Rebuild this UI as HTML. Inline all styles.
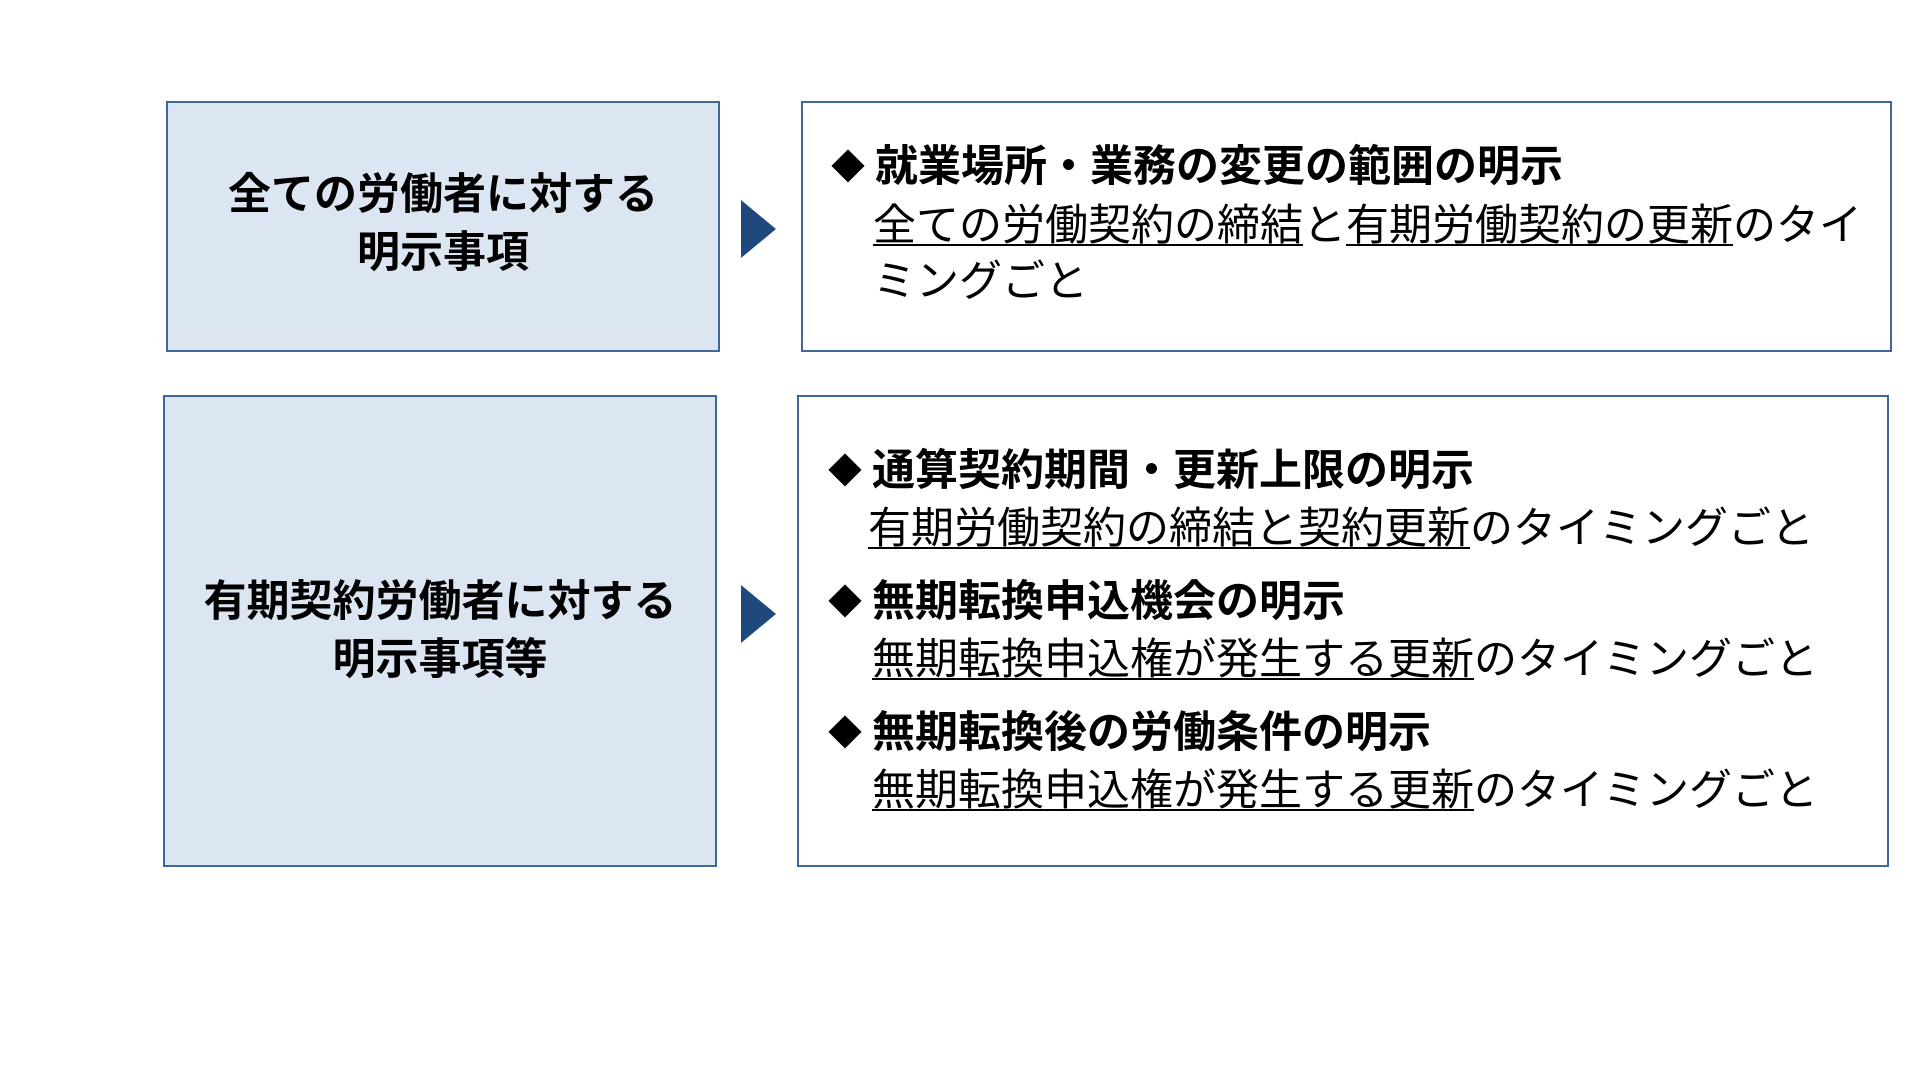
<!DOCTYPE html>
<html><head><meta charset="utf-8"><style>
body{margin:0;width:1920px;height:1080px;background:#fff;position:relative;overflow:hidden;font-family:"Liberation Sans","Noto Sans CJK JP",sans-serif;color:#000}
.box{position:absolute;box-sizing:border-box;border:2.5px solid #41669a}
.fill{background:#dce6f2}
.t{position:absolute;white-space:nowrap;font-size:43px;line-height:1}
.b{font-weight:bold}
.c{text-align:center}
.d{font-size:34px;display:inline-block;width:44px;vertical-align:2px}
u{text-decoration:underline;text-underline-offset:4px;text-decoration-thickness:2px}
.arr{position:absolute;width:0;height:0;border-top:29px solid transparent;border-bottom:29px solid transparent;border-left:35px solid #1f497d}
</style></head><body>
<div class="box fill" style="left:166px;top:101px;width:554px;height:251px"></div>
<div class="box" style="left:801px;top:101px;width:1091px;height:251px"></div>
<div class="box fill" style="left:163px;top:395px;width:554px;height:472px"></div>
<div class="box" style="left:797px;top:395px;width:1092px;height:472px"></div>
<div class="arr" style="left:741px;top:200px"></div>
<div class="arr" style="left:741px;top:585px"></div>

<div class="t b c" style="left:166px;width:554px;top:174px">全ての労働者に対する</div>
<div class="t b c" style="left:166px;width:554px;top:232px">明示事項</div>
<div class="t b c" style="left:163px;width:554px;top:581px">有期契約労働者に対する</div>
<div class="t b c" style="left:163px;width:554px;top:639px">明示事項等</div>

<div class="t b" style="left:831px;top:146px"><span class="d">◆</span>就業場所・業務の変更の範囲の明示</div>
<div class="t" style="left:873px;top:205px"><u>全ての労働契約の締結</u>と<u>有期労働契約の更新</u>のタイ</div>
<div class="t" style="left:873px;top:261px">ミングごと</div>

<div class="t b" style="left:828px;top:450px"><span class="d">◆</span>通算契約期間・更新上限の明示</div>
<div class="t" style="left:868px;top:508px"><u>有期労働契約の締結と契約更新</u>のタイミングごと</div>
<div class="t b" style="left:828px;top:581px"><span class="d">◆</span>無期転換申込機会の明示</div>
<div class="t" style="left:872px;top:639px"><u>無期転換申込権が発生する更新</u>のタイミングごと</div>
<div class="t b" style="left:828px;top:712px"><span class="d">◆</span>無期転換後の労働条件の明示</div>
<div class="t" style="left:872px;top:770px"><u>無期転換申込権が発生する更新</u>のタイミングごと</div>
</body></html>
